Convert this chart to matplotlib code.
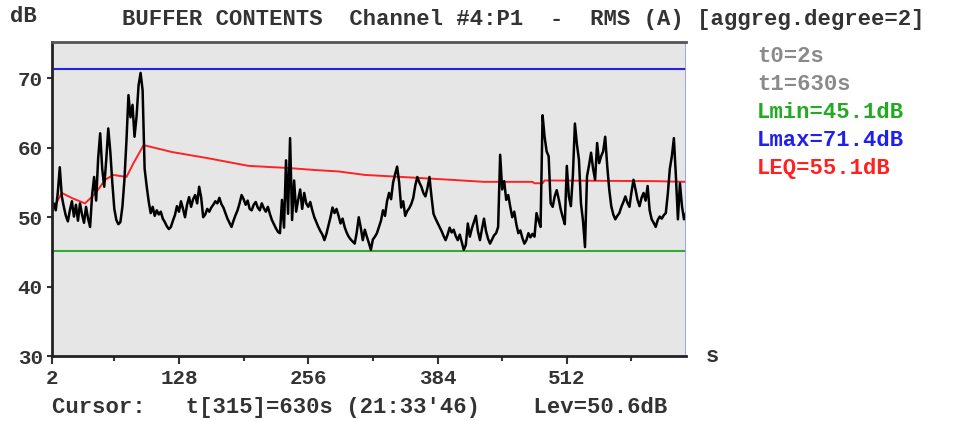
import numpy as np
import matplotlib.pyplot as plt

# buffer samples: one value every 2 s (aggregation degree 2)
t = np.arange(2, 632, 2)
lev = [
    50.8, 52.0, 51.0, 53.5, 57.2, 53.0, 51.5, 50.2, 49.4, 51.0,
    52.3, 50.1, 51.8, 49.5, 52.0, 50.4, 49.2, 51.5, 49.8, 48.6,
    53.2, 55.8, 52.4, 58.5, 62.1, 57.0, 54.4, 58.3, 62.8, 59.5,
    55.0, 51.2, 49.6, 49.0, 49.3, 51.5, 55.4, 61.0, 67.6, 64.4,
    66.2, 61.6, 64.5, 69.0, 70.8, 68.3, 57.0, 54.5, 52.3, 50.6,
    51.5, 50.2, 51.0, 50.4, 50.8, 49.8, 49.3, 48.7, 48.3, 48.6,
    49.5, 50.3, 51.6, 50.8, 52.3, 51.2, 50.0, 51.8, 52.9, 51.5,
    52.6, 53.2, 52.0, 54.4, 52.8, 50.0, 50.4, 51.2, 50.8, 51.4,
    51.8, 52.3, 52.0, 52.8, 51.9, 51.4, 50.6, 49.8, 49.2, 48.6,
    49.5, 50.3, 51.0, 52.0, 53.2, 52.6, 51.8, 52.4, 51.2, 51.0,
    51.8, 52.2, 51.4, 51.0, 52.0, 51.3, 50.8, 51.5, 50.5, 49.6,
    49.0, 48.4, 47.9, 47.7, 52.5, 48.5, 58.2, 50.5, 61.4, 49.6,
    55.3, 50.8, 52.5, 54.0, 51.2, 53.5, 52.0, 51.5, 52.2, 51.0,
    50.0, 49.3, 48.6, 48.0, 47.5, 46.7, 47.6, 48.8, 50.0, 51.4,
    50.6, 51.2, 50.2, 49.1, 49.8, 48.6, 47.8, 47.2, 46.8, 46.5,
    46.2, 47.8, 50.0, 48.5, 46.7, 48.2, 47.2, 46.3, 45.3, 46.8,
    47.2, 47.7, 48.6, 49.5, 51.0, 50.2, 52.3, 53.5, 52.6, 55.0,
    56.2, 57.3, 55.0, 51.4, 52.3, 50.2, 50.9, 51.3, 51.9, 52.8,
    54.6, 55.8, 55.0, 54.4, 53.5, 53.0, 54.2, 55.8, 53.0, 50.5,
    49.8, 49.2, 48.6, 48.0, 47.3, 46.7, 47.5, 48.5, 47.8, 48.2,
    47.3, 46.7, 47.5, 46.4, 45.3, 46.0, 49.1, 47.2, 48.4, 49.3,
    50.2, 48.0, 46.7, 48.3, 49.8, 48.0, 46.9, 46.2, 46.8, 47.4,
    47.7, 48.6, 59.0, 54.0, 55.2, 52.5, 53.2, 51.5, 50.0, 50.8,
    49.0, 47.7, 48.1, 47.0, 46.2, 46.7, 47.7, 47.1, 47.6, 47.2,
    50.6, 49.5, 48.6, 64.7, 61.6, 59.5, 58.8, 52.0, 51.5, 53.0,
    53.9, 52.6, 51.1, 50.0, 49.0, 57.4, 53.0, 51.6, 56.0, 63.5,
    60.5, 58.3, 52.0, 49.5, 45.7, 55.9, 57.5, 59.3, 57.0, 55.4,
    60.7, 57.8, 58.8, 59.5, 61.6, 57.4, 54.0, 51.6, 50.4, 49.7,
    50.2, 50.6, 51.5, 52.2, 53.0, 52.1, 51.5, 53.6, 55.4, 54.0,
    52.5, 51.6, 52.8, 53.5, 52.4, 54.5, 51.0, 49.7, 49.2, 48.6,
    49.6, 50.1, 49.8, 50.3, 50.6, 53.4, 57.0, 58.8, 61.4, 55.9,
    49.7, 54.9, 51.6, 49.7, 50.6,
]

# running LEQ
leq_t = [2, 12, 23, 35, 45, 55, 63, 76, 83, 93, 121, 157, 197, 236, 263,
         286, 312, 349, 397, 430, 478, 480, 488, 490, 600, 630]
leq_v = [50.8, 53.5, 52.7, 52.0, 53.4, 55.4, 56.1, 55.8, 57.8, 60.4, 59.4,
         58.5, 57.4, 57.1, 56.8, 56.6, 56.1, 55.8, 55.4, 55.1, 55.1, 54.9,
         54.9, 55.3, 55.2, 55.1]

lmin = 45.1
lmax = 71.4
leq = 55.1
t0, t1 = 2, 630
cursor_lev = 50.6

xticks = [2, 128, 256, 384, 512]
xminor = [64, 192, 320, 448, 576]
yticks = [30, 40, 50, 60, 70]

W, H = 970, 421
mono = dict(family='Liberation Mono', weight='bold', size=16)
tickfont = dict(family='Liberation Mono', weight='bold', size=15)


def px(x, y):
    return x / W, 1 - y / H


fig = plt.figure(figsize=(W / 100, H / 100), dpi=100)
ax = fig.add_axes([51.7 / W, 1 - 356 / H, (686 - 51.7) / W, (356 - 41.7) / H])
ax.set_facecolor('#e6e6e6')

ax.axhline(lmax, color='#2222ee', lw=1.5)
ax.axhline(lmin, color='#33aa33', lw=1.5)
ax.plot(leq_t, leq_v, color='#ff2222', lw=1.4)
ax.plot(t, lev, color='black', lw=1.8)
ax.axvline(t1, color='#9a9af0', lw=2)

ax.set_xlim(2, 630)
ax.set_ylim(30, 75.3)
ax.set_xticks(xticks)
ax.set_xticks(xminor, minor=True)
ax.set_yticks(yticks)
ax.tick_params(axis='x', which='major', length=6, width=1.5, color='#333333',
               pad=3, labelcolor='#333333')
ax.tick_params(axis='x', which='minor', length=3.5, width=1.5, color='#333333')
ax.tick_params(axis='y', length=3.5, width=1.5, color='#333333', pad=3,
               labelcolor='#333333')
for lab in ax.get_xticklabels() + ax.get_yticklabels():
    lab.set_fontproperties(tickfont)

for side in ['left', 'bottom']:
    ax.spines[side].set_linewidth(2)
    ax.spines[side].set_color('#222222')
ax.spines['top'].set_linewidth(2)
ax.spines['top'].set_color('#555555')
ax.spines['right'].set_visible(False)

fig.text(*px(10, 16), 'dB', va='center', color='#333333', **mono)
fig.text(*px(122, 20), 'BUFFER CONTENTS  Channel #4:P1  -  RMS (A) [aggreg.degree=2]',
         va='center', color='#333333', **mono)
fig.text(*px(706, 357), 's', va='center', color='#333333', **mono)

legend = [
    (f't0={t0}s', '#8a8a8a'),
    (f't1={t1}s', '#8a8a8a'),
    (f'Lmin={lmin}dB', '#22aa22'),
    (f'Lmax={lmax}dB', '#2020ee'),
    (f'LEQ={leq}dB', '#ff2020'),
]
for i, (txt, col) in enumerate(legend):
    fig.text(*px(757, 57 + i * 27.8), txt, va='center', color=col, **mono)

fig.text(*px(52, 408),
         f"Cursor:   t[{len(t)}]={t1}s (21:33'46)    Lev={cursor_lev}dB",
         va='center', color='#333333', **mono)

fig.savefig('out.png', dpi=100, facecolor='white')
